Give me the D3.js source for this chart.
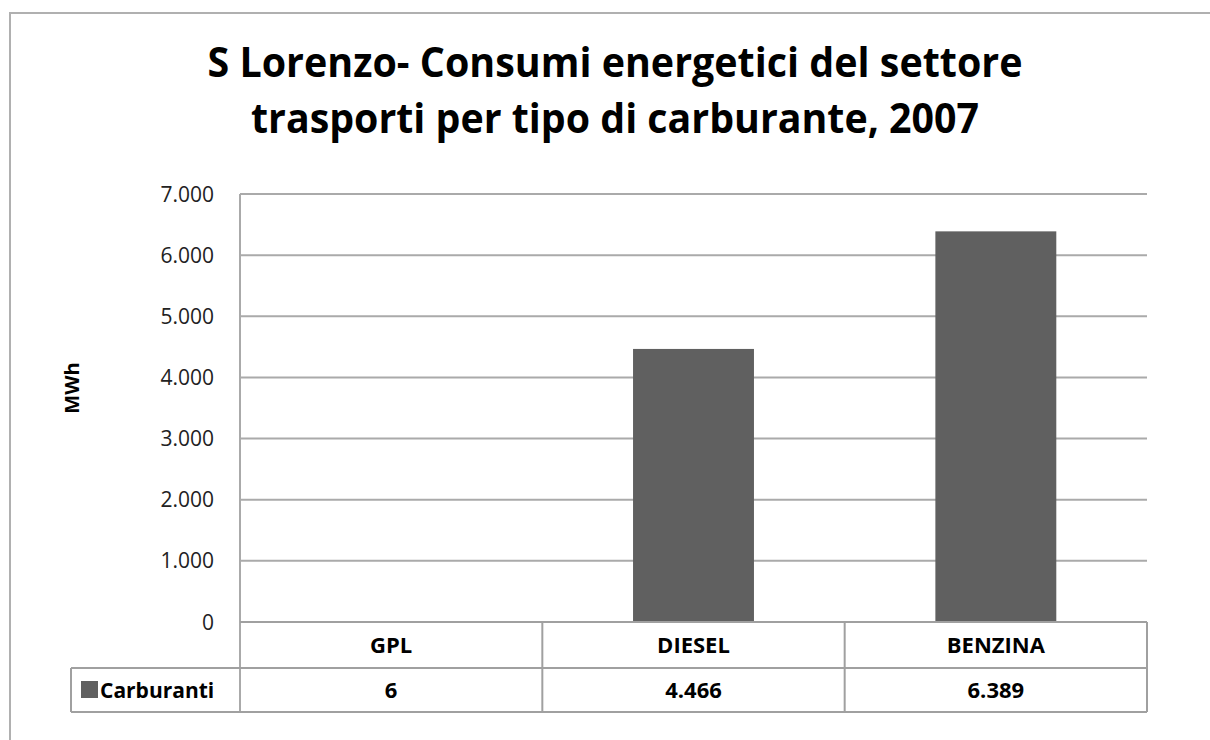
<!DOCTYPE html>
<html>
<head>
<meta charset="utf-8">
<script src="https://cdn.jsdelivr.net/npm/d3@7"></script>
<style>
  body { margin: 0; background: #fff; }
  svg { display: block; font-family: "Open Sans", sans-serif; }
</style>
</head>
<body>
<svg width="1210" height="740"></svg>
<script>
// values
var categories = ['GPL', 'DIESEL', 'BENZINA']
var values = [6, 4466, 6389]
var seriesName = 'Carburanti'
var yTicks = [0, 1000, 2000, 3000, 4000, 5000, 6000, 7000]
var titleLines = ['S Lorenzo- Consumi energetici del settore', 'trasporti per tipo di carburante, 2007']
var yLabel = 'MWh'

var it = d3.formatLocale({decimal: ',', thousands: '.', grouping: [3], currency: ['', '']})
var fmt = it.format(',d')

var svg = d3.select('svg')

// chart area frame (runs off the right / bottom of the picture)
svg.append('rect')
  .attr('x', 10).attr('y', 13)
  .attr('width', 1220).attr('height', 760)
  .attr('fill', 'none')
  .attr('stroke', '#b0b0b0')
  .attr('stroke-width', 2)

// title
var titleWidths = [815, 728]
svg.selectAll('.title')
  .data(titleLines)
  .enter()
  .append('text')
  .attr('class', 'title')
  .attr('x', 615)
  .attr('y', function(d, i){ return 77 + i * 56 })
  .attr('text-anchor', 'middle')
  .attr('font-size', 41)
  .attr('font-weight', 'bold')
  .attr('fill', '#000')
  .text(function(d){ return d })
  .each(function(d, i){
    var w = this.getComputedTextLength()
    if (w > titleWidths[i]) {
      d3.select(this).attr('textLength', titleWidths[i]).attr('lengthAdjust', 'spacingAndGlyphs')
    }
  })

var plotL = 240, plotR = 1147, plotT = 194, plotB = 622
var tableL = 71, headB = 668, tableB = 712

var x = d3.scaleBand()
  .domain(categories)
  .range([plotL, plotR])
  .paddingInner(0.6)
  .paddingOuter(0.3)

var y = d3.scaleLinear()
  .domain([0, 7000])
  .range([plotB, plotT])

// gridlines
svg.append('g')
  .selectAll('line')
  .data(yTicks)
  .enter()
  .append('line')
  .attr('x1', plotL).attr('x2', plotR)
  .attr('y1', function(d){ return y(d) })
  .attr('y2', function(d){ return y(d) })
  .attr('stroke', '#aaaaaa')
  .attr('stroke-width', 2)

// y axis line
svg.append('line')
  .attr('x1', plotL).attr('x2', plotL)
  .attr('y1', plotT).attr('y2', tableB)
  .attr('stroke', '#aaaaaa')
  .attr('stroke-width', 2)

// tick labels
svg.append('g')
  .selectAll('text')
  .data(yTicks)
  .enter()
  .append('text')
  .attr('x', 214)
  .attr('y', function(d){ return y(d) })
  .attr('dy', '0.36em')
  .attr('text-anchor', 'end')
  .attr('font-size', 21)
  .attr('fill', '#222')
  .text(function(d){ return fmt(d) })

// y label
svg.append('text')
  .attr('transform', 'translate(79,388) rotate(-90)')
  .attr('text-anchor', 'middle')
  .attr('font-size', 20)
  .attr('font-weight', 'bold')
  .attr('fill', '#000')
  .text(yLabel)

// bars
svg.append('g')
  .selectAll('rect')
  .data(values)
  .enter()
  .append('rect')
  .attr('x', function(d, i){ return x(categories[i]) })
  .attr('width', x.bandwidth())
  .attr('y', function(d){ return y(d) })
  .attr('height', function(d){ return y(0) - y(d) })
  .attr('fill', '#606060')

// data table
var step = x.step()
var edges = categories.map(function(c){ return x(c) - x.paddingOuter() * step })
edges.push(plotR)

var tbl = svg.append('g')
  .attr('stroke', '#a0a0a0')
  .attr('stroke-width', 2)
  .attr('fill', 'none')

tbl.append('line').attr('x1', plotL).attr('x2', plotR).attr('y1', plotB).attr('y2', plotB)
tbl.append('line').attr('x1', tableL).attr('x2', plotR).attr('y1', headB).attr('y2', headB)
tbl.append('line').attr('x1', tableL).attr('x2', plotR).attr('y1', tableB).attr('y2', tableB)
tbl.append('line').attr('x1', tableL).attr('x2', tableL).attr('y1', headB).attr('y2', tableB)
tbl.selectAll('.sep')
  .data(edges.slice(1))
  .enter()
  .append('line')
  .attr('x1', function(d){ return d }).attr('x2', function(d){ return d })
  .attr('y1', plotB).attr('y2', tableB)

svg.append('g')
  .selectAll('text')
  .data(categories)
  .enter()
  .append('text')
  .attr('x', function(d){ return x(d) + x.bandwidth() / 2 })
  .attr('y', (plotB + headB) / 2)
  .attr('dy', '0.36em')
  .attr('text-anchor', 'middle')
  .attr('font-size', 22)
  .attr('font-weight', 'bold')
  .attr('fill', '#000')
  .text(function(d){ return d })

svg.append('g')
  .selectAll('text')
  .data(values)
  .enter()
  .append('text')
  .attr('x', function(d, i){ return x(categories[i]) + x.bandwidth() / 2 })
  .attr('y', (headB + tableB) / 2)
  .attr('dy', '0.36em')
  .attr('text-anchor', 'middle')
  .attr('font-size', 22)
  .attr('font-weight', 'bold')
  .attr('fill', '#000')
  .text(function(d){ return fmt(d) })

// legend key in table
svg.append('rect')
  .attr('x', 81).attr('y', 681)
  .attr('width', 17).attr('height', 17)
  .attr('fill', '#606060')

svg.append('text')
  .attr('x', 100)
  .attr('y', (headB + tableB) / 2)
  .attr('dy', '0.36em')
  .attr('font-size', 21)
  .attr('font-weight', 'bold')
  .attr('fill', '#000')
  .text(seriesName)
</script>
</body>
</html>
